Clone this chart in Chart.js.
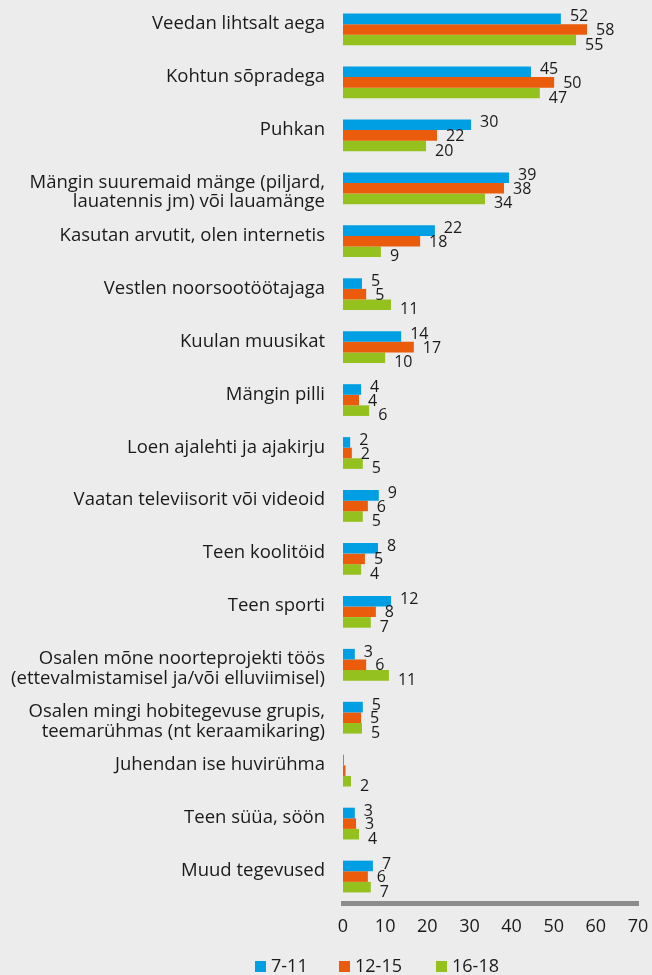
<!DOCTYPE html>
<html>
<head>
<meta charset="utf-8">
<script src="https://cdn.jsdelivr.net/npm/chart.js@4.4.1/dist/chart.umd.min.js"></script>
<style>
  html, body { margin: 0; padding: 0; background: #ececec; }
  #chart { display: block; }
</style>
</head>
<body>
<canvas id="chart" width="652" height="975"></canvas>
<script>
// Categories (top to bottom)
const categories = [
    'Veedan lihtsalt aega',
    'Kohtun sõpradega',
    'Puhkan',
    ['Mängin suuremaid mänge (piljard,', 'lauatennis jm) või lauamänge'],
    'Kasutan arvutit, olen internetis',
    'Vestlen noorsootöötajaga',
    'Kuulan muusikat',
    'Mängin pilli',
    'Loen ajalehti ja ajakirju',
    'Vaatan televiisorit või videoid',
    'Teen koolitöid',
    'Teen sporti',
    ['Osalen mõne noorteprojekti töös', '(ettevalmistamisel ja/või elluviimisel)'],
    ['Osalen mingi hobitegevuse grupis,', 'teemarühmas (nt keraamikaring)'],
    'Juhendan ise huvirühma',
    'Teen süüa, söön',
    'Muud tegevused'
];

const seriesNames = ['7-11', '12-15', '16-18'];

// Bar lengths (%)
const age7to11  = [51.7, 44.6, 30.4, 39.4, 21.8, 4.5, 13.8, 4.3, 1.7, 8.5, 8.3, 11.4, 2.8, 4.7, 0.2, 2.8, 7.1];
const age12to15 = [57.9, 50.1, 22.3, 38.2, 18.3, 5.5, 16.8, 3.8, 2.1, 5.9, 5.2, 7.8, 5.5, 4.3, 0.6, 3.1, 5.9];
const age16to18 = [55.3, 46.7, 19.7, 33.7, 9.0, 11.4, 10.0, 6.2, 4.7, 4.7, 4.3, 6.6, 10.9, 4.5, 1.9, 3.8, 6.6];

// Value labels as printed next to the bars
const shown7to11  = ['52', '45', '30', '39', '22', '5', '14', '4', '2', '9', '8', '12', '3', '5', '', '3', '7'];
const shown12to15 = ['58', '50', '22', '38', '18', '5', '17', '4', '2', '6', '5', '8', '6', '5', '', '3', '6'];
const shown16to18 = ['55', '47', '20', '34', '9', '11', '10', '6', '5', '5', '4', '7', '11', '5', '2', '4', '7'];

const xMin = 0, xMax = 70, xStep = 10;

const colors = ['#009fe3', '#ea5b0c', '#95c11f'];
const FONT = '"Open Sans", "Noto Sans", sans-serif';
const TEXT = '#1a1a1a';

// Background fill
const background = {
    id: 'background',
    beforeDraw(chart) {
        const c = chart.ctx;
        c.save();
        c.fillStyle = '#ececec';
        c.fillRect(0, 0, chart.width, chart.height);
        c.restore();
    }
};

// Numbers to the right of each bar
const valueLabels = {
    id: 'valueLabels',
    afterDatasetsDraw(chart) {
        const c = chart.ctx;
        const shown = [shown7to11, shown12to15, shown16to18];
        const dy = [-2, 1, 5];
        c.save();
        c.font = '16px ' + FONT;
        c.fillStyle = TEXT;
        c.textAlign = 'left';
        c.textBaseline = 'middle';
        chart.data.datasets.forEach((ds, di) => {
            chart.getDatasetMeta(di).data.forEach((bar, i) => {
                const txt = shown[di][i];
                if (txt) c.fillText(txt, bar.x + 9, bar.y + dy[di]);
            });
        });
        c.restore();
    }
};

// Legend at the bottom
const bottomLegend = {
    id: 'bottomLegend',
    afterDraw(chart) {
        const c = chart.ctx;
        const starts = [255, 339, 436];
        const y = 967;
        c.save();
        c.font = '18px ' + FONT;
        c.textBaseline = 'middle';
        c.textAlign = 'left';
        chart.data.datasets.forEach((ds, i) => {
            c.fillStyle = ds.backgroundColor;
            c.fillRect(starts[i], y - 6, 11, 11);
            c.fillStyle = TEXT;
            c.fillText(ds.label, starts[i] + 16, y);
        });
        c.restore();
    }
};

const ctx = document.getElementById('chart').getContext('2d');
new Chart(ctx, {
    type: 'bar',
    data: {
        labels: categories,
        datasets: [
            { label: seriesNames[0], data: age7to11, backgroundColor: colors[0] },
            { label: seriesNames[1], data: age12to15, backgroundColor: colors[1] },
            { label: seriesNames[2], data: age16to18, backgroundColor: colors[2] }
        ]
    },
    options: {
        indexAxis: 'y',
        responsive: false,
        animation: false,
        layout: { padding: { top: 3, right: 14, bottom: 40, left: 0 } },
        datasets: { bar: { categoryPercentage: 0.6, barPercentage: 1 } },
        scales: {
            x: {
                min: xMin,
                max: xMax,
                ticks: { stepSize: xStep, font: { family: FONT, size: 18 }, color: TEXT, padding: 13 },
                grid: { display: false, drawTicks: false },
                border: { display: true, color: '#8c8c8c', width: 5 },
                afterFit(s) { s.height = 32; s.paddingLeft = 0; s.paddingRight = 0; }
            },
            y: {
                ticks: {
                    font: { family: FONT, size: 18.5, lineHeight: 1.054 },
                    color: TEXT,
                    padding: 18,
                    labelOffset: 4,
                    autoSkip: false,
                    callback(v, i) {
                        const l = categories[i];
                        return Array.isArray(l) ? l : [l, ''];
                    }
                },
                grid: { display: false, drawTicks: false },
                border: { display: false },
                afterFit(s) { s.width = 343; s.paddingTop = 0; s.paddingBottom = 0; }
            }
        },
        plugins: {
            legend: { display: false },
            tooltip: { enabled: false }
        }
    },
    plugins: [background, valueLabels, bottomLegend]
});
</script>
</body>
</html>
